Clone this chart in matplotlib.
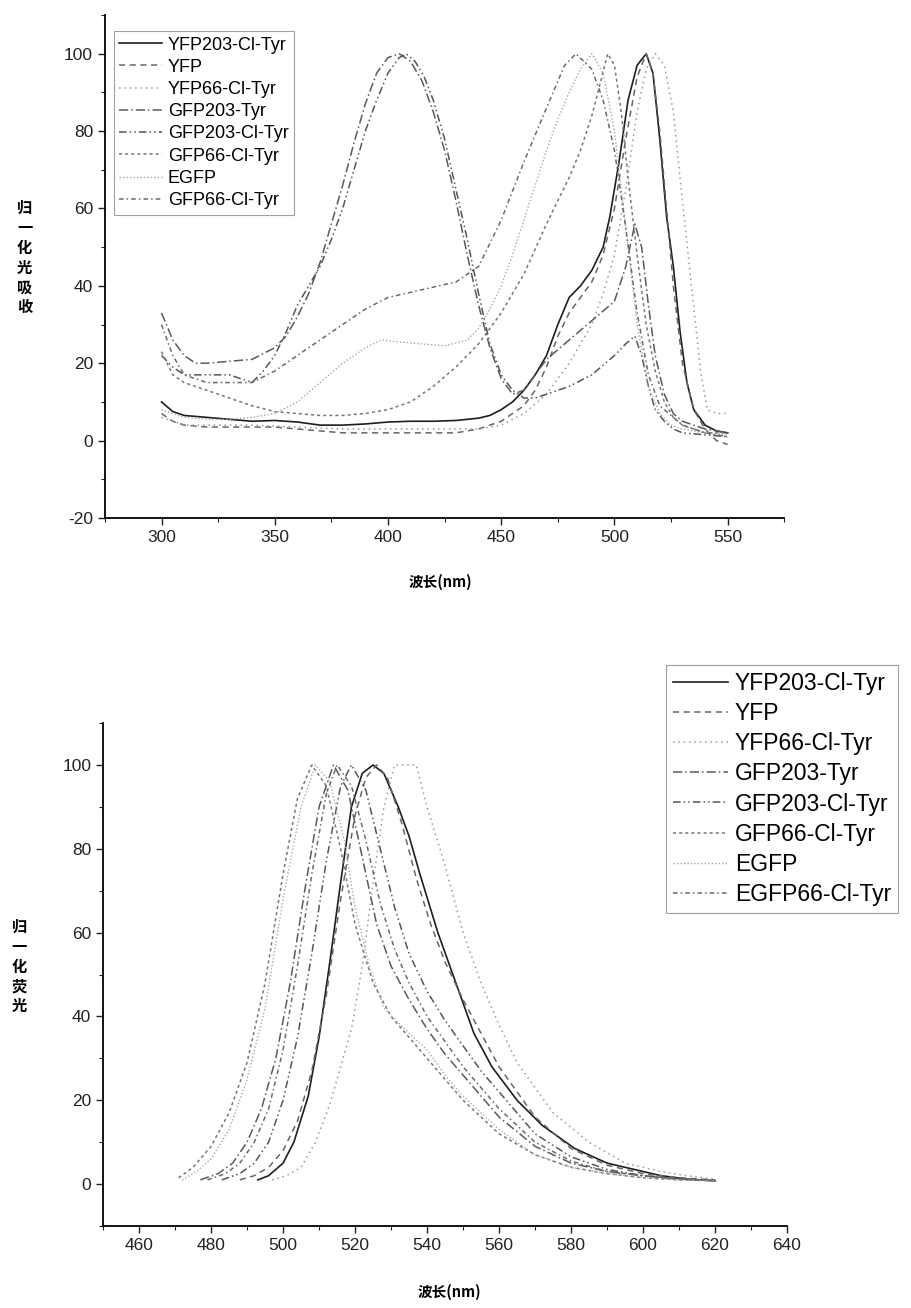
import matplotlib
matplotlib.use('Agg')
import matplotlib.pyplot as plt
from matplotlib.ticker import MultipleLocator

plt.rcParams['font.family'] = ['Liberation Sans', 'DejaVu Sans']
plt.rcParams['axes.unicode_minus'] = False

# ---- absorption data (top panel) ----
abs_yfp203cl_x = [300, 305, 310, 320, 330, 340, 350, 360, 370, 380, 390, 400, 410, 420, 430, 440, 445, 450, 455, 460,
                  465, 470, 475, 480, 485, 490, 495, 498, 502, 506, 510, 514, 517, 520, 523, 526, 529, 532, 535, 540, 545, 550]
abs_yfp203cl_y = [10, 7.5, 6.5, 6, 5.5, 5, 5.2, 4.8, 4, 4, 4.3, 4.8, 5, 5, 5.2, 5.8, 6.5, 8, 10, 13,
                  17, 22, 30, 37, 40, 44, 50, 58, 72, 88, 97, 100, 95, 78, 58, 45, 28, 15, 8, 4, 2.5, 2]
abs_yfp_x = [300, 305, 310, 320, 330, 340, 350, 360, 370, 380, 390, 400, 410, 420, 430, 440, 450, 460, 465, 470,
             475, 480, 485, 490, 495, 500, 505, 510, 514, 517, 520, 523, 526, 530, 535, 540, 545, 550]
abs_yfp_y = [7, 5, 4, 3.5, 3.5, 3.5, 3.5, 3, 2.5, 2, 2, 2, 2, 2, 2, 3, 5, 9, 13, 19,
             27, 33, 37, 41, 48, 60, 78, 94, 100, 95, 80, 60, 40, 20, 8, 3, 0, -1]
abs_yfp66cl_x = [300, 310, 320, 340, 360, 380, 400, 420, 440, 450, 460, 470, 480, 490, 495, 500, 505, 510, 514, 518,
                 522, 526, 530, 534, 538, 541, 545, 550]
abs_yfp66cl_y = [6, 4, 4, 4, 3.5, 3, 3, 3, 3, 4, 7, 12, 20, 30, 38, 48, 65, 85, 96, 100,
                 97, 85, 62, 40, 18, 8, 7, 7]
abs_gfp203_x = [300, 305, 310, 315, 320, 330, 340, 350, 355, 360, 365, 370, 375, 380, 385, 390, 395, 400, 405, 410,
                415, 420, 425, 430, 435, 440, 445, 450, 455, 460, 465, 470, 480, 490, 500, 505, 509, 512, 515, 518,
                522, 526, 530, 540, 550]
abs_gfp203_y = [33, 26, 22, 20, 20, 20.5, 21, 24, 27, 32, 38, 46, 56, 66, 77, 87, 95, 99, 100, 98,
                93, 85, 75, 62, 48, 35, 24, 16, 12, 13, 17, 21, 26, 31, 36, 45, 56, 50, 35, 22,
                12, 7, 5, 3, 2]
abs_gfp203cl_x = [300, 305, 310, 320, 330, 335, 340, 345, 350, 355, 360, 365, 370, 375, 380, 385, 390, 395, 400, 405,
                  408, 412, 416, 420, 425, 430, 435, 440, 445, 450, 455, 460, 465, 470, 480, 490, 500, 505, 509, 512,
                  515, 518, 522, 526, 530, 540, 550]
abs_gfp203cl_y = [22, 19, 17, 17, 17, 16, 15, 18, 22, 28, 35, 40, 45, 52, 60, 70, 80, 88, 95, 99,
                  100, 98, 94, 88, 78, 65, 52, 38, 25, 17, 13, 11, 11, 12, 14, 17, 22, 25, 27, 22,
                  14, 8, 5, 3, 2, 1.5, 1]
abs_gfp66cl_x = [300, 305, 310, 320, 330, 340, 350, 360, 370, 380, 390, 400, 410, 420, 430, 440, 450, 460, 470, 480,
                 485, 490, 494, 497, 500, 503, 506, 510, 514, 518, 522, 526, 530, 540, 550]
abs_gfp66cl_y = [23, 17, 15, 13, 11, 9, 7.5, 7, 6.5, 6.5, 7, 8, 10, 14, 19, 25, 33, 43, 56, 68,
                 75, 84, 93, 100, 97, 85, 68, 48, 30, 18, 10, 6, 4, 2, 2]
abs_egfp_x = [300, 310, 320, 330, 340, 350, 360, 370, 380, 390, 397, 405, 415, 425, 435, 440, 445, 450, 455, 460,
              465, 470, 475, 480, 485, 490, 495, 500, 505, 510, 515, 520, 525, 530, 540, 550]
abs_egfp_y = [8, 6, 5.5, 5.5, 6, 7, 10, 15, 20, 24, 26, 25.5, 25, 24.5, 26, 29, 34, 40, 48, 57,
              66, 75, 83, 90, 96, 100, 95, 80, 55, 30, 14, 7, 4, 3, 2, 1.5]
abs_gfp66cl2_x = [300, 305, 310, 320, 330, 340, 350, 360, 375, 390, 400, 415, 430, 440, 450, 460, 470, 478, 483, 490,
                  495, 500, 505, 510, 515, 520, 530, 540, 550]
abs_gfp66cl2_y = [30, 22, 17, 15, 15, 15, 18, 22, 28, 34, 37, 39, 41, 45, 57, 72, 86, 97, 100, 96,
                  88, 75, 55, 33, 17, 9, 4, 2, 1]

abs_names = ['YFP203-Cl-Tyr', 'YFP', 'YFP66-Cl-Tyr', 'GFP203-Tyr', 'GFP203-Cl-Tyr', 'GFP66-Cl-Tyr', 'EGFP', 'GFP66-Cl-Tyr']
abs_x = [abs_yfp203cl_x, abs_yfp_x, abs_yfp66cl_x, abs_gfp203_x, abs_gfp203cl_x, abs_gfp66cl_x, abs_egfp_x, abs_gfp66cl2_x]
abs_y = [abs_yfp203cl_y, abs_yfp_y, abs_yfp66cl_y, abs_gfp203_y, abs_gfp203cl_y, abs_gfp66cl_y, abs_egfp_y, abs_gfp66cl2_y]

# ---- fluorescence data (bottom panel) ----
fl_yfp203cl_x = [493, 496, 500, 503, 507, 510, 513, 516, 519, 522, 525, 528, 532, 535, 538, 543, 548, 553, 558, 565,
                 572, 581, 590, 596, 605, 612, 620]
fl_yfp203cl_y = [1, 2, 5, 10, 21, 35, 53, 72, 90, 98, 100, 98, 90, 83, 74, 60, 48, 36, 28, 20,
                 14, 8.5, 5, 3.8, 2, 1.2, 0.8]
fl_yfp_x = [488, 492, 496, 500, 504, 508, 512, 516, 520, 523, 526, 529, 533, 537, 541, 545, 550, 555, 560, 570,
            580, 590, 600, 610, 620]
fl_yfp_y = [1, 2, 4, 8, 15, 27, 45, 68, 88, 97, 100, 97, 86, 73, 62, 53, 44, 36, 28, 16,
            8.5, 4.5, 2.5, 1.5, 1]
fl_yfp66cl_x = [497, 501, 505, 509, 513, 516, 519, 522, 525, 528, 531, 537, 540, 545, 550, 555, 560, 565, 575, 585,
                595, 605, 612, 620]
fl_yfp66cl_y = [1, 2, 4, 10, 19, 28, 37, 52, 72, 90, 100, 100, 90, 76, 60, 48, 38, 29, 17, 10,
                5, 3, 2, 1.2]
fl_gfp203_x = [477, 482, 486, 490, 494, 498, 502, 506, 510, 514, 518, 522, 526, 530, 535, 540, 545, 550, 560, 570,
               580, 590, 600, 610, 620]
fl_gfp203_y = [1, 2.5, 5, 10, 18, 30, 48, 70, 90, 100, 94, 78, 62, 52, 44, 37, 31, 26, 16, 9,
               5, 3, 2, 1.2, 0.8]
fl_gfp203cl_x = [483, 488, 492, 496, 500, 504, 508, 512, 516, 519, 523, 527, 531, 535, 540, 545, 550, 555, 560, 570,
                 580, 590, 600, 610, 620]
fl_gfp203cl_y = [1, 2.5, 5, 10, 20, 35, 55, 77, 95, 100, 94, 80, 66, 55, 46, 39, 33, 27, 22, 12,
                 6.5, 3.5, 2, 1.2, 0.8]
fl_gfp66cl_x = [471, 475, 480, 485, 490, 495, 500, 504, 508, 512, 516, 520, 525, 530, 535, 540, 545, 550, 560, 570,
                580, 590, 600, 610, 620]
fl_gfp66cl_y = [1.5, 4, 9, 17, 29, 48, 74, 92, 100, 95, 80, 62, 48, 40, 35, 30, 25, 20, 12, 7,
                4, 2.5, 1.5, 1, 0.8]
fl_egfp_x = [472, 476, 480, 485, 490, 495, 500, 505, 509, 513, 517, 520, 524, 528, 535, 540, 545, 550, 560, 570,
             580, 590, 600, 610, 620]
fl_egfp_y = [1, 3, 6, 13, 25, 42, 68, 90, 100, 96, 82, 66, 52, 42, 36, 32, 26, 21, 13, 7,
             4, 2.5, 1.5, 1, 0.8]
fl_egfp66cl_x = [479, 484, 488, 492, 496, 500, 504, 508, 512, 515, 519, 523, 527, 531, 535, 540, 545, 550, 560, 570,
                 580, 590, 600, 610, 620]
fl_egfp66cl_y = [1, 2.5, 5, 10, 18, 32, 52, 74, 93, 100, 95, 82, 67, 56, 48, 40, 34, 28, 18, 10,
                 5.5, 3, 2, 1.2, 0.8]

fl_names = ['YFP203-Cl-Tyr', 'YFP', 'YFP66-Cl-Tyr', 'GFP203-Tyr', 'GFP203-Cl-Tyr', 'GFP66-Cl-Tyr', 'EGFP', 'EGFP66-Cl-Tyr']
fl_x = [fl_yfp203cl_x, fl_yfp_x, fl_yfp66cl_x, fl_gfp203_x, fl_gfp203cl_x, fl_gfp66cl_x, fl_egfp_x, fl_egfp66cl_x]
fl_y = [fl_yfp203cl_y, fl_yfp_y, fl_yfp66cl_y, fl_gfp203_y, fl_gfp203cl_y, fl_gfp66cl_y, fl_egfp_y, fl_egfp66cl_y]

# grey line styles, one per series (same order in both panels)
styles = ['-', (0, (4, 3)), (0, (1, 2.5)), (0, (6, 2, 1, 2)), (0, (5, 2, 1, 2, 1, 2)),
          (0, (2, 2)), (0, (1, 1.5)), (0, (3, 2, 1, 2))]
colors = ['#1e1e1e', '#666666', '#999999', '#5a5a5a', '#555555', '#777777', '#a8a8a8', '#6a6a6a']
widths = [1.2, 1.1, 1.1, 1.1, 1.1, 1.1, 1.0, 1.1]

cjk = ['Noto Sans CJK SC', 'DejaVu Sans']

fig = plt.figure(figsize=(9.12, 13.08), dpi=100)
ax1 = fig.add_axes([0.115, 0.604, 0.745, 0.3845])
ax2 = fig.add_axes([0.113, 0.0627, 0.750, 0.3845])

for i in range(len(abs_names)):
    ax1.plot(abs_x[i], abs_y[i], linestyle=styles[i], color=colors[i], lw=widths[i], label=abs_names[i])
for i in range(len(fl_names)):
    ax2.plot(fl_x[i], fl_y[i], linestyle=styles[i], color=colors[i], lw=widths[i], label=fl_names[i])

ax1.set_xlim(275, 575)
ax1.set_ylim(-20, 110)
ax1.xaxis.set_major_locator(MultipleLocator(50))
ax1.xaxis.set_minor_locator(MultipleLocator(25))
ax1.set_yticks([-20, 0, 20, 40, 60, 80, 100])
ax1.yaxis.set_minor_locator(MultipleLocator(10))

ax2.set_xlim(450, 640)
ax2.set_ylim(-10, 110)
ax2.xaxis.set_major_locator(MultipleLocator(20))
ax2.xaxis.set_minor_locator(MultipleLocator(10))
ax2.set_yticks([0, 20, 40, 60, 80, 100])
ax2.yaxis.set_minor_locator(MultipleLocator(10))

for ax in (ax1, ax2):
    ax.spines['top'].set_visible(False)
    ax.spines['right'].set_visible(False)
    ax.spines['left'].set_linewidth(1.3)
    ax.spines['bottom'].set_linewidth(1.3)
    ax.tick_params(which='major', direction='out', length=5, width=1, labelsize=12.5, colors='#222222')
    ax.tick_params(which='minor', direction='out', length=3, width=0.8, colors='#222222')

leg1 = ax1.legend(loc='upper left', bbox_to_anchor=(0.013, 0.968), borderaxespad=0, fontsize=13,
                  handlelength=2.4, handletextpad=0.3, labelspacing=0.29, borderpad=0.3,
                  fancybox=False, frameon=True)
leg1.get_frame().set_edgecolor('#888888')
leg1.get_frame().set_linewidth(0.8)

leg2 = ax2.legend(loc='upper left', bbox_to_anchor=(0.823, 1.115), borderaxespad=0, fontsize=16.5,
                  handlelength=2.4, handletextpad=0.3, labelspacing=0.31, borderpad=0.3,
                  fancybox=False, frameon=True)
leg2.get_frame().set_edgecolor('#888888')
leg2.get_frame().set_linewidth(0.8)

fig.text(0.027, 0.803, '\n'.join('归一化光吸收'), family=cjk, fontsize=11, fontweight='bold',
         ha='center', va='center', linespacing=1.3)
fig.text(0.021, 0.261, '\n'.join('归一化荧光'), family=cjk, fontsize=11, fontweight='bold',
         ha='center', va='center', linespacing=1.3)
fig.text(0.483, 1 - 582 / 1308, '波长(nm)', family=cjk, fontsize=10.5, fontweight='bold',
         ha='center', va='center')
fig.text(0.493, 1 - 1292 / 1308, '波长(nm)', family=cjk, fontsize=10.5, fontweight='bold',
         ha='center', va='center')

plt.savefig('out.png', dpi=100)
